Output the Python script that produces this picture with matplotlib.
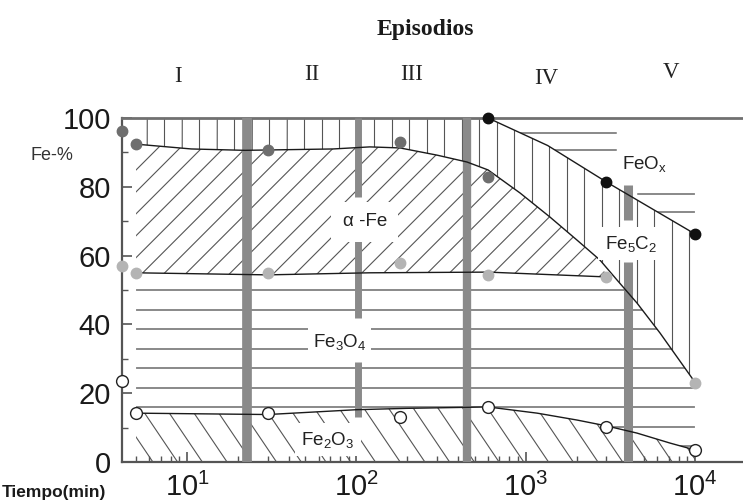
import numpy as np
import matplotlib
matplotlib.use("Agg")
import matplotlib.pyplot as plt
from matplotlib.collections import LineCollection
from matplotlib.patches import Polygon
from matplotlib.ticker import LogLocator, MultipleLocator, NullFormatter

plt.rcParams["font.family"] = ["Liberation Sans", "DejaVu Sans"]
plt.rcParams["mathtext.default"] = "regular"

# --- data (time in min, Fe-%) ---
T_LEFT = 4.13

# measured points
feox_pts_t = [600, 3000, 10000]
feox_pts_y = [100, 81.4, 66.3]
afe_top_pts_t = [T_LEFT, 5, 30, 180, 600]
afe_top_pts_y = [96.2, 92.4, 90.7, 93.0, 82.8]
afe_bot_pts_t = [T_LEFT, 5, 30, 180, 600, 3000, 10000]
afe_bot_pts_y = [57.0, 55.0, 55.0, 57.8, 54.4, 53.8, 23.0]
fe2o3_pts_t = [T_LEFT, 5, 30, 180, 600, 3000, 10000]
fe2o3_pts_y = [23.5, 14.2, 14.2, 13.0, 16.0, 10.2, 3.5]

# traced boundary curves
feox_curve_t = [600, 1350, 3000, 10000]
feox_curve_y = [100, 92.0, 81.4, 66.3]
top_curve_t = [5, 10.6, 22, 73, 120, 181, 300, 451, 600, 927, 1393,
               2012, 2750, 3467, 4550, 6220, 9610, 10000]
top_curve_y = [92.4, 91.0, 90.6, 91.0, 91.6, 91.3, 89.2, 87.2, 84.9, 78.2, 71.2,
               64.5, 58.7, 52.9, 46.2, 37.5, 24.4, 23.0]
bot_curve_t = [5, 30, 120, 600, 3000]
bot_curve_y = [55.0, 54.4, 55.0, 55.2, 53.8]
fe2o3_curve_t = [5, 30, 100, 200, 600, 1170, 2010, 3000, 4550, 7130, 10000]
fe2o3_curve_y = [14.2, 13.8, 15.2, 15.6, 16.0, 14.2, 12.2, 10.5, 8.4, 5.5, 3.5]

# episode separators (grey bars) and their visible spans
bar_t = [22.6, 102, 451, 4030]
bar_spans = [[(0, 100)], [(77, 100), (42, 64.5), (13, 29)], [(0, 100)], [(70.3, 80.5), (0, 58)]]
bar_lw = [7, 5, 6, 6.5]

episodes = ["I", "II", "III", "IV", "V"]
episode_px = [(178, 76), (312, 75), (412, 75), (546, 78), (671, 73)]

FIG_W, FIG_H, DPI = 7.43, 5.04, 100
fig = plt.figure(figsize=(FIG_W, FIG_H), dpi=DPI)
ax = fig.add_axes([122 / 743, 42 / 504, 621 / 743, 344 / 504])
ax.set_xscale("log")
ax.set_xlim(T_LEFT, 19230)
ax.set_ylim(0, 100)


def add_hatch(poly_t, poly_y, angle, spacing, color="#555555", lw=0.8, phase=0.0):
    poly = Polygon(np.column_stack([poly_t, poly_y]), closed=True,
                   facecolor="none", edgecolor="none")
    ax.add_patch(poly)
    bb = ax.get_position()
    w = bb.width * FIG_W * DPI
    h = bb.height * FIG_H * DPI
    th = np.deg2rad(angle)
    d = np.array([np.cos(th), np.sin(th)])
    n = np.array([-np.sin(th), np.cos(th)])
    span = np.hypot(w, h)
    k = np.ceil(span / spacing)
    c = np.array([w / 2, h / 2])
    segs = []
    for o in np.arange(-k, k + 1) * spacing + phase:
        p0 = (c + o * n - span * d) / [w, h]
        p1 = (c + o * n + span * d) / [w, h]
        segs.append([p0, p1])
    lc = LineCollection(segs, transform=ax.transAxes, colors=color, linewidths=lw, zorder=2)
    ax.add_collection(lc, autolim=False)
    lc.set_clip_path(poly)
    return poly


# region polygons
cut = 3000
afe_t = [t for t in top_curve_t if t < cut] + bot_curve_t[::-1]
afe_y = [y for t, y in zip(top_curve_t, top_curve_y) if t < cut] + bot_curve_y[::-1]

fe3_up_t = bot_curve_t + [t for t in top_curve_t if t > cut]
fe3_up_y = bot_curve_y + [y for t, y in zip(top_curve_t, top_curve_y) if t > cut]
fe3_t = fe3_up_t + fe2o3_curve_t[::-1]
fe3_y = fe3_up_y + fe2o3_curve_y[::-1]

c5_t = [5] + feox_curve_t + top_curve_t[::-1]
c5_y = [100] + feox_curve_y + top_curve_y[::-1]

fe2_t = fe2o3_curve_t + [fe2o3_curve_t[-1], fe2o3_curve_t[0]]
fe2_y = fe2o3_curve_y + [0, 0]

feox_t = feox_curve_t + [10000]
feox_y = feox_curve_y + [100]

add_hatch(afe_t, afe_y, 45, 15.5)
add_hatch(fe3_t, fe3_y, 0, 19.5, color="#6a6a6a", lw=1.1)
add_hatch(c5_t, c5_y, 90, 17.5, phase=6)
add_hatch(fe2_t, fe2_y, -56, 20.5)

# sparse horizontal strokes in the FeOx field
feox_poly = Polygon(np.column_stack([feox_t, feox_y]), closed=True, facecolor="none", edgecolor="none")
ax.add_patch(feox_poly)
for t0, t1, y in [(900, 3400, 95.6), (900, 3400, 90.7), (4600, 10700, 78.0), (4600, 10700, 72.7)]:
    ln, = ax.plot([t0, t1], [y, y], color="#6a6a6a", lw=1.1, zorder=2)
    ln.set_clip_path(feox_poly)

# grey episode bars
for t, spans, lw in zip(bar_t, bar_spans, bar_lw):
    for y0, y1 in spans:
        ax.plot([t, t], [y0, y1], color="#8a8a8a", lw=lw, solid_capstyle="butt", zorder=3)

# boundary curves
for xs, ys in [(top_curve_t, top_curve_y), (bot_curve_t, bot_curve_y),
               (fe2o3_curve_t, fe2o3_curve_y), (feox_curve_t, feox_curve_y)]:
    ax.plot(xs, ys, color="#1a1a1a", lw=1.0, zorder=4)

# measured points
ax.plot(afe_top_pts_t, afe_top_pts_y, "o", ms=7.5, color="#6e6e6e", mec="#6e6e6e", zorder=5, clip_on=False)
ax.plot(afe_bot_pts_t, afe_bot_pts_y, "o", ms=7.5, color="#b4b4b4", mec="#b4b4b4", zorder=5, clip_on=False)
ax.plot(feox_pts_t, feox_pts_y, "o", ms=7.5, color="#111111", mec="#111111", zorder=5, clip_on=False)
ax.plot(fe2o3_pts_t, fe2o3_pts_y, "o", ms=8.5, mfc="white", mec="#222222", mew=1.0, zorder=5, clip_on=False)

# phase labels
lab_kw = dict(ha="center", va="center", fontsize=13.5, color="#222222", zorder=6)
box = dict(boxstyle="square,pad=0.35", facecolor="white", edgecolor="none")
ax.text(112, 69.8, "α -Fe", bbox=dict(boxstyle="square,pad=0.6", facecolor="white", edgecolor="none"), **lab_kw)
ax.text(80, 35, "Fe$_3$O$_4$", bbox=dict(boxstyle="square,pad=0.25", facecolor="white", edgecolor="none"), **lab_kw)
ax.text(68, 6.5, "Fe$_2$O$_3$", bbox=box, **lab_kw)
ax.text(5050, 86.5, "FeO$_x$", **lab_kw)
ax.text(4200, 63.5, "Fe$_5$C$_2$", bbox=box, **lab_kw)

# axes styling
for side in ["top", "left", "bottom"]:
    ax.spines[side].set_color("#555555")
    ax.spines[side].set_linewidth(1.6)
ax.spines["right"].set_visible(False)
ax.spines["top"].set_linewidth(2.0)
ax.spines["top"].set_color("#707070")

ax.yaxis.set_major_locator(MultipleLocator(20))
ax.yaxis.set_minor_locator(MultipleLocator(10))
ax.xaxis.set_major_locator(LogLocator(base=10, numticks=10))
ax.xaxis.set_minor_locator(LogLocator(base=10, subs=np.arange(2, 10), numticks=10))
ax.xaxis.set_minor_formatter(NullFormatter())
ax.tick_params(axis="both", which="major", direction="in", length=7, width=1.2,
               labelsize=21, colors="#555555", labelcolor="#1a1a1a")
ax.tick_params(axis="both", which="minor", direction="in", length=4, width=1.0, colors="#555555")
ax.tick_params(axis="y", pad=8)
ax.tick_params(axis="x", pad=8)
ax.tick_params(top=False, right=False, which="both")

# figure texts
fig.text(425 / 743, 1 - 30 / 504, "Episodios", ha="center", va="center",
         family="Liberation Serif", fontweight="bold", fontsize=17, color="#1a1a1a")
for name, (px, py) in zip(episodes, episode_px):
    fig.text(px / 743, 1 - py / 504, name, ha="center", va="center",
             family="Liberation Serif", fontsize=16.5, color="#222222")
fig.text(52 / 743, 1 - 155 / 504, "Fe-%", ha="center", va="center", fontsize=13, color="#333333")
fig.text(0.002, 1 - 492 / 504, "Tiempo(min)", ha="left", va="center", fontsize=12.5,
         fontweight="bold", color="#1a1a1a")

fig.savefig("out.png", dpi=DPI)
